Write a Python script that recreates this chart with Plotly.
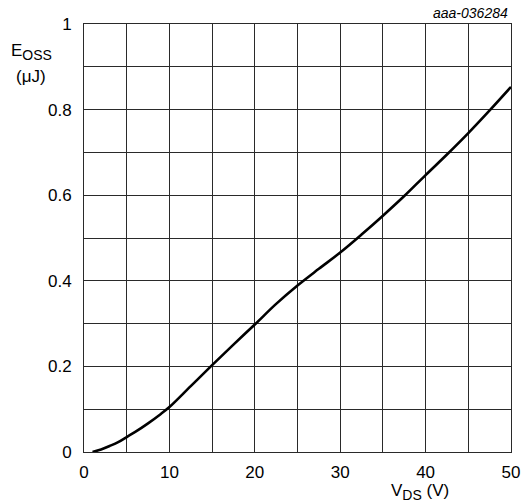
import plotly.graph_objects as go

vds = [1, 2, 3, 4, 5, 6, 7.5, 9, 10, 12.5, 15, 17.5, 20, 22.5, 25, 27.5, 30, 32.5, 35, 37.5, 40, 42.5, 45, 47.5, 50]
eoss = [0.0, 0.006, 0.014, 0.023, 0.035, 0.047, 0.067, 0.089, 0.105, 0.154, 0.203, 0.251, 0.298, 0.346, 0.389, 0.428,
        0.466, 0.508, 0.552, 0.598, 0.647, 0.695, 0.745, 0.798, 0.853]

x_ticks = [0, 10, 20, 30, 40, 50]
y_ticks = [0, 0.2, 0.4, 0.6, 0.8, 1]
y_tick_text = ["0", "0.2", "0.4", "0.6", "0.8", "1"]

FONT = "Liberation Sans, Arial, sans-serif"
GRID = "#2a2a2a"

fig = go.Figure()
fig.add_trace(go.Scatter(x=vds, y=eoss, mode="lines",
                         line=dict(color="black", width=2.6, shape="spline", smoothing=1.0),
                         showlegend=False, hoverinfo="skip"))

axis_common = dict(showline=True, linecolor=GRID, linewidth=1, mirror=True,
                   showgrid=True, gridcolor=GRID, gridwidth=1, zeroline=False,
                   ticks="", automargin=False,
                   tickfont=dict(family=FONT, size=17, color="black"))

fig.update_xaxes(range=[0, 50], tickvals=x_ticks, ticktext=[str(v) for v in x_ticks],
                 minor=dict(dtick=5, showgrid=True, gridcolor=GRID, gridwidth=1, tick0=0),
                 ticklabelstandoff=5, **axis_common)
fig.update_yaxes(range=[0, 1], tickvals=y_ticks, ticktext=y_tick_text,
                 minor=dict(dtick=0.1, showgrid=True, gridcolor=GRID, gridwidth=1, tick0=0),
                 ticklabelstandoff=8, **axis_common)

SUB = '<sub><span style="font-size:14px">{}</span></sub>'

fig.update_layout(
    width=523, height=502,
    margin=dict(l=84, r=12, t=24, b=50),
    paper_bgcolor="white", plot_bgcolor="white",
    font=dict(family=FONT, color="black"),
    annotations=[
        dict(text="E" + SUB.format("OSS"), xref="paper", yref="paper", x=-0.124, y=0.935,
             showarrow=False, font=dict(size=17, family=FONT), xanchor="center", yanchor="middle"),
        dict(text="(μJ)", xref="paper", yref="paper", x=-0.124, y=0.878,
             showarrow=False, font=dict(size=17, family=FONT), xanchor="center", yanchor="middle"),
        dict(text="V" + SUB.format("DS") + " (V)", xref="paper", yref="paper", x=0.787, y=-0.063,
             showarrow=False, font=dict(size=17, family=FONT), xanchor="center", yanchor="top"),
        dict(text="<i>aaa-036284</i>", xref="paper", yref="paper", x=1, y=1.026,
             showarrow=False, font=dict(size=14, family=FONT), xanchor="right", yanchor="middle",
             xshift=-1),
    ],
)

fig.write_html("out.html")
